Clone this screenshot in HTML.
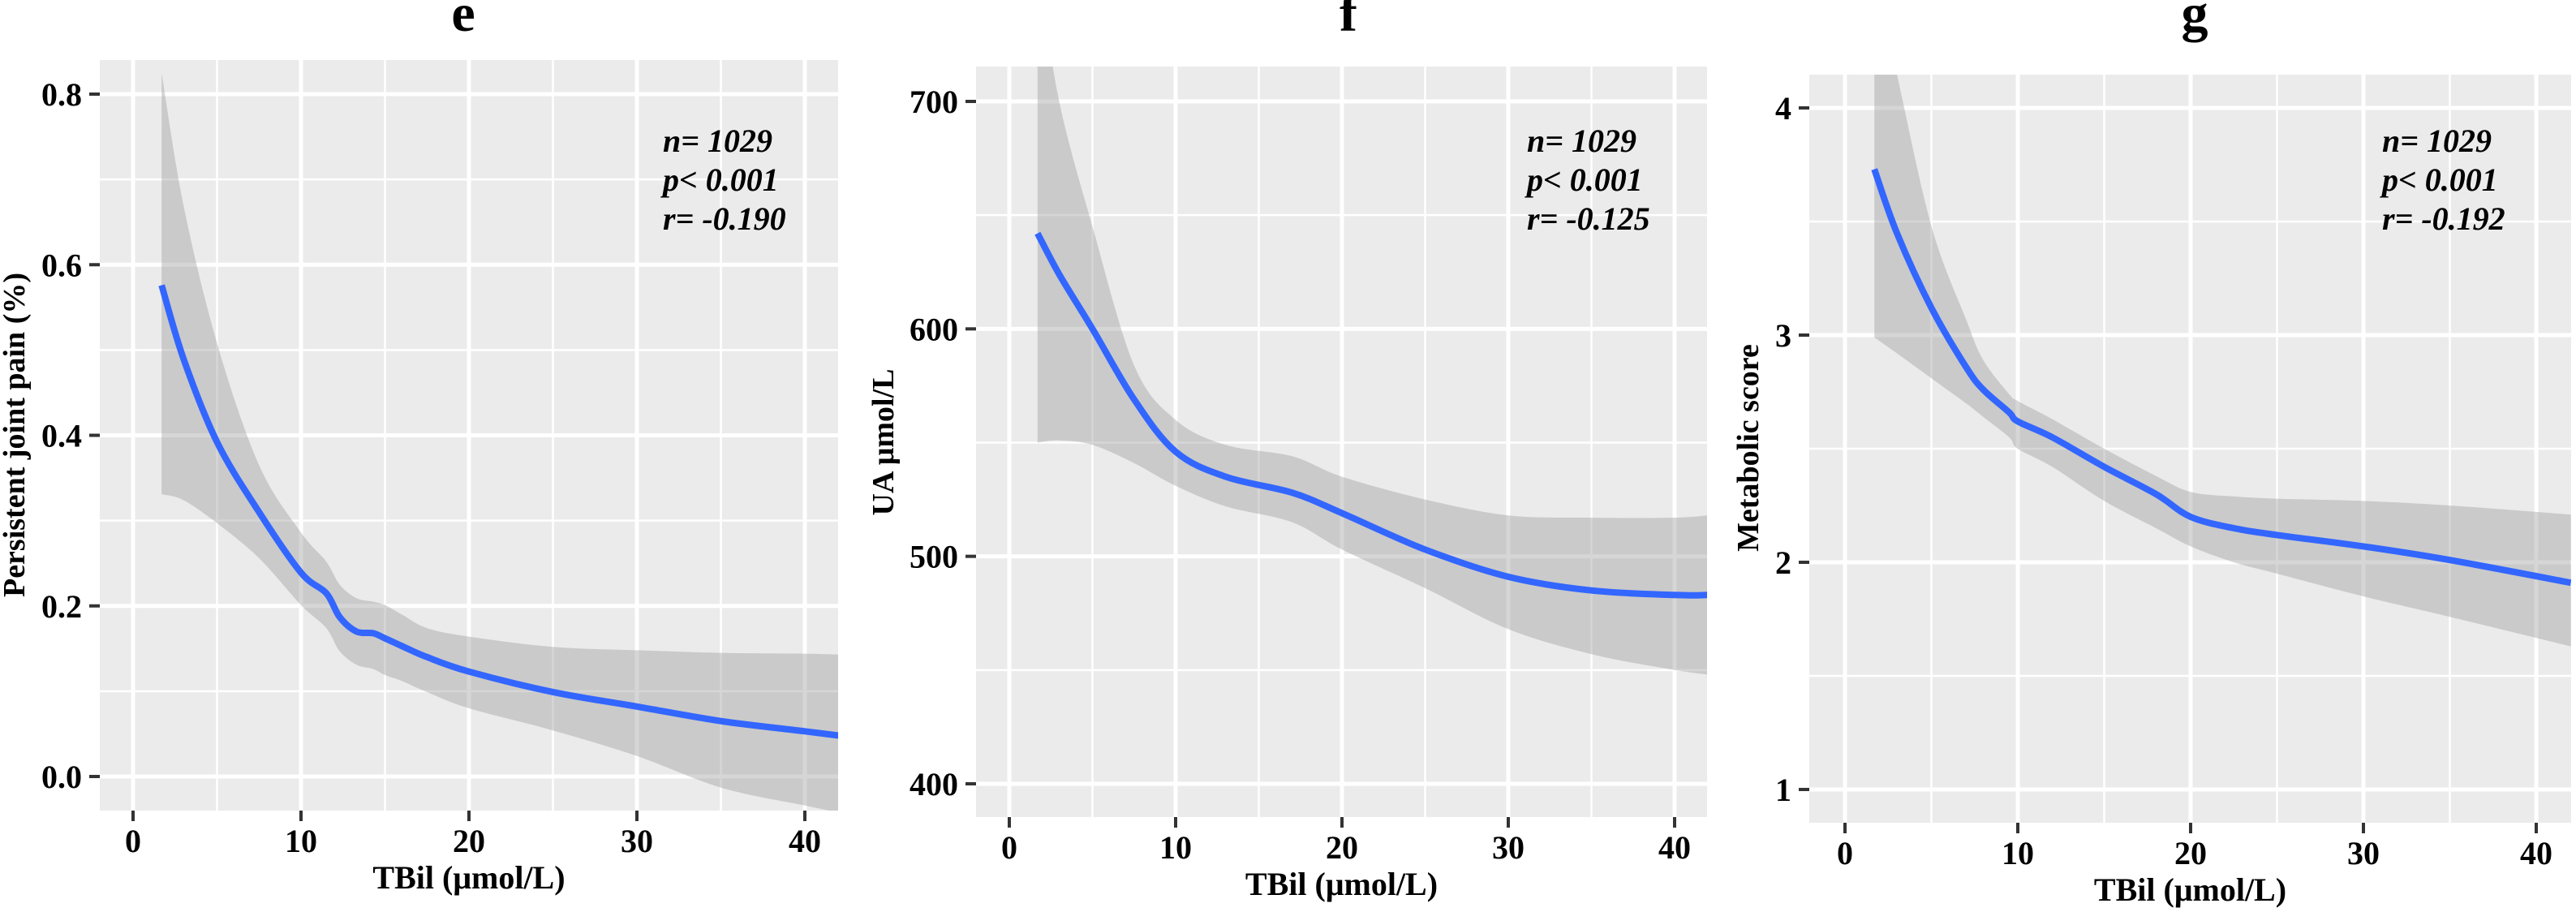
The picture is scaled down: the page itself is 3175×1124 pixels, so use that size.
<!DOCTYPE html>
<html><head><meta charset="utf-8">
<style>
html,body{margin:0;padding:0;background:#fff;}
svg{display:block;}
text{font-family:"Liberation Serif","Times New Roman",serif;font-weight:bold;fill:#000;}
</style></head>
<body>
<svg id="chart" width="3175" height="1124" viewBox="0 0 3175 1124" xmlns="http://www.w3.org/2000/svg"></svg>
<script>
// ---------- data ----------
const xTicks = [0, 10, 20, 30, 40];
const xMinor = [5, 15, 25, 35];

// Panel e
const eTitle = "e";
const eYLabel = "Persistent joint pain (%)";
const eYTicks = [0.0, 0.2, 0.4, 0.6, 0.8];
const eYTickLabels = ["0.0", "0.2", "0.4", "0.6", "0.8"];
const eYMinor = [0.1, 0.3, 0.5, 0.7];
const eStats = ["n= 1029", "p< 0.001", "r= -0.190"];
const eX = [1.7, 3, 5, 7.5, 10, 11.5, 12.3, 13.3, 14.3, 15, 16, 17.5, 20, 25, 30, 35, 40, 42];
const eFit = [0.576, 0.49, 0.392, 0.31, 0.239, 0.215, 0.187, 0.17, 0.168, 0.162, 0.153, 0.14, 0.123, 0.099, 0.082, 0.065, 0.053, 0.048];
const eUpper = [0.825, 0.67, 0.508, 0.365, 0.286, 0.252, 0.225, 0.209, 0.205, 0.201, 0.19, 0.174, 0.164, 0.152, 0.148, 0.145, 0.144, 0.143];
const eLower = [0.331, 0.324, 0.297, 0.256, 0.201, 0.174, 0.147, 0.131, 0.126, 0.119, 0.112, 0.099, 0.080, 0.054, 0.024, -0.013, -0.034, -0.042];

// Panel f
const fTitle = "f";
const fYLabel = "UA \u03bcmol/L";
const fYTicks = [400, 500, 600, 700];
const fYTickLabels = ["400", "500", "600", "700"];
const fYMinor = [450, 550, 650];
const fStats = ["n= 1029", "p< 0.001", "r= -0.125"];
const fX = [1.7, 3, 5, 7.5, 10, 13, 17, 20, 25, 30, 35, 40, 42];
const fFit = [642, 624, 600, 569, 546, 535, 528, 519, 503, 491, 485, 483, 483];
const fUpper = [760, 700, 645, 584, 560, 549, 544, 535, 525, 518, 517, 517, 518];
const fLower = [550, 551, 549, 541, 531, 522, 515, 503, 486, 468, 457, 450, 448];

// Panel g
const gTitle = "g";
const gYLabel = "Metabolic score";
const gYTicks = [1, 2, 3, 4];
const gYTickLabels = ["1", "2", "3", "4"];
const gYMinor = [1.5, 2.5, 3.5];
const gStats = ["n= 1029", "p< 0.001", "r= -0.192"];
const gX = [1.7, 3, 5, 7, 8, 9.5, 10, 12, 15, 18, 20, 22.5, 25, 30, 35, 42];
const gFit = [3.73, 3.45, 3.12, 2.86, 2.76, 2.66, 2.62, 2.55, 2.42, 2.30, 2.20, 2.15, 2.12, 2.07, 2.01, 1.91];
const gUpper = [4.6, 4.15, 3.48, 3.07, 2.89, 2.74, 2.71, 2.63, 2.50, 2.38, 2.31, 2.29, 2.28, 2.27, 2.25, 2.21];
const gLower = [2.99, 2.92, 2.81, 2.70, 2.64, 2.55, 2.50, 2.42, 2.27, 2.15, 2.07, 2.00, 1.95, 1.85, 1.76, 1.63];

// ---------- drawing ----------
const NS = "http://www.w3.org/2000/svg";
const svg = document.getElementById("chart");
function mk(tag, attrs, parent) {
  const el = document.createElementNS(NS, tag);
  for (const k in attrs) el.setAttribute(k, attrs[k]);
  (parent || svg).appendChild(el);
  return el;
}
// smooth path through points (Catmull-Rom -> cubic Bezier)
function smooth(pts, move) {
  let d = (move ? "M" : "L") + pts[0][0].toFixed(1) + "," + pts[0][1].toFixed(1);
  for (let i = 0; i < pts.length - 1; i++) {
    const p0 = pts[Math.max(0, i - 1)], p1 = pts[i], p2 = pts[i + 1], p3 = pts[Math.min(pts.length - 1, i + 2)];
    const c1x = p1[0] + (p2[0] - p0[0]) / 6, c1y = p1[1] + (p2[1] - p0[1]) / 6;
    const c2x = p2[0] - (p3[0] - p1[0]) / 6, c2y = p2[1] - (p3[1] - p1[1]) / 6;
    d += "C" + c1x.toFixed(1) + "," + c1y.toFixed(1) + " " + c2x.toFixed(1) + "," + c2y.toFixed(1) + " " + p2[0].toFixed(1) + "," + p2[1].toFixed(1);
  }
  return d;
}

function panel(cfg) {
  const g = mk("g", {});
  
  
  const L = cfg.left, R = cfg.right, T = cfg.top, B = cfg.bottom;
  const xs = v => cfg.x0px + (v - 0) * (cfg.x40px - cfg.x0px) / 40;
  const ys = v => cfg.ya_px + (v - cfg.ya) * (cfg.yb_px - cfg.ya_px) / (cfg.yb - cfg.ya);

  const bg = mk("rect", {x: L, y: T, width: R - L, height: B - T, fill: "#EBEBEB"}, g);
  
  

  cfg.yMinor.forEach(v => {
    const ln = mk("line", {x1: L, x2: R, y1: ys(v), y2: ys(v), stroke: "#fff", "stroke-width": 2.5}, g);
    
    
  });
  xMinor.forEach(v => {
    const ln = mk("line", {x1: xs(v), x2: xs(v), y1: T, y2: B, stroke: "#fff", "stroke-width": 2.5}, g);
    
    
  });
  cfg.yTicks.forEach(v => {
    const ln = mk("line", {x1: L, x2: R, y1: ys(v), y2: ys(v), stroke: "#fff", "stroke-width": 5}, g);
    
    
  });
  xTicks.forEach(v => {
    const ln = mk("line", {x1: xs(v), x2: xs(v), y1: T, y2: B, stroke: "#fff", "stroke-width": 5}, g);
    
    
  });

  const cid = "clip-" + cfg.title;
  const defs = mk("defs", {}, g);
  const cp = mk("clipPath", {id: cid}, defs);
  mk("rect", {x: L, y: T, width: R - L, height: B - T}, cp);
  const plotG = mk("g", {"clip-path": "url(#" + cid + ")"}, g);

  const up = cfg.xs.map((xv, i) => [xs(xv), ys(cfg.upper[i])]);
  const lo = cfg.xs.map((xv, i) => [xs(xv), ys(cfg.lower[i])]).reverse();
  const d = smooth(up, true) + smooth(lo, false) + "Z";
  const band = mk("path", {d: d, fill: "#999999", "fill-opacity": 0.4}, plotG);
  
  

  const fp = cfg.xs.map((xv, i) => [xs(xv), ys(cfg.fit[i])]);
  const line = mk("path", {d: smooth(fp, true), fill: "none", stroke: "#3366FF", "stroke-width": 8, "stroke-linejoin": "round"}, plotG);
  
  

  cfg.yTicks.forEach((v, i) => {
    mk("line", {x1: L - 13, x2: L, y1: ys(v), y2: ys(v), stroke: "#333", "stroke-width": 4}, g);
    const t = mk("text", {x: L - 22, y: ys(v) + 14, "font-size": 40, "text-anchor": "end"}, g);
    t.textContent = cfg.yTickLabels[i];
    
    
  });
  xTicks.forEach(v => {
    mk("line", {x1: xs(v), x2: xs(v), y1: B, y2: B + 13, stroke: "#333", "stroke-width": 4}, g);
    const t = mk("text", {x: xs(v), y: B + 51, "font-size": 40, "text-anchor": "middle"}, g);
    t.textContent = String(v);
    
    
  });

  const xt = mk("text", {x: (L + R) / 2, y: B + 96, "font-size": 40, "text-anchor": "middle"}, g);
  xt.textContent = "TBil (\u03bcmol/L)";
  
  

  const yt = mk("text", {x: 0, y: 0, "font-size": 38, "text-anchor": "middle",
    transform: "translate(" + cfg.ylabX + "," + cfg.ylabY + ") rotate(-90)"}, g);
  yt.textContent = cfg.ylab;
  
  

  const tt = mk("text", {x: cfg.titleX, y: 38, "font-size": 66, "text-anchor": "middle"}, g);
  tt.textContent = cfg.title;
  
  

  cfg.stats.forEach((s, i) => {
    const st = mk("text", {x: cfg.statX, y: 187 + i * 48, "font-size": 40, "font-style": "italic"}, g);
    st.textContent = s;
    
    
  });
}

panel({title: eTitle, ylab: eYLabel, yTicks: eYTicks, yTickLabels: eYTickLabels, yMinor: eYMinor, stats: eStats,
  xs: eX, fit: eFit, upper: eUpper, lower: eLower,
  left: 123, right: 1033, top: 74, bottom: 999, x0px: 164, x40px: 992,
  ya: 0, ya_px: 957, yb: 0.8, yb_px: 116, ylabX: 30, ylabY: 536, titleX: 571, statX: 817});

panel({title: fTitle, ylab: fYLabel, yTicks: fYTicks, yTickLabels: fYTickLabels, yMinor: fYMinor, stats: fStats,
  xs: fX, fit: fFit, upper: fUpper, lower: fLower,
  left: 1203, right: 2104, top: 82, bottom: 1007, x0px: 1244, x40px: 2064,
  ya: 400, ya_px: 966, yb: 700, yb_px: 125, ylabX: 1101, ylabY: 545, titleX: 1662, statX: 1882});

panel({title: gTitle, ylab: gYLabel, yTicks: gYTicks, yTickLabels: gYTickLabels, yMinor: gYMinor, stats: gStats,
  xs: gX, fit: gFit, upper: gUpper, lower: gLower,
  left: 2230, right: 3169, top: 92, bottom: 1014, x0px: 2274, x40px: 3126,
  ya: 1, ya_px: 973, yb: 4, yb_px: 133, ylabX: 2167, ylabY: 552, titleX: 2705, statX: 2936});
</script>
</body></html>
